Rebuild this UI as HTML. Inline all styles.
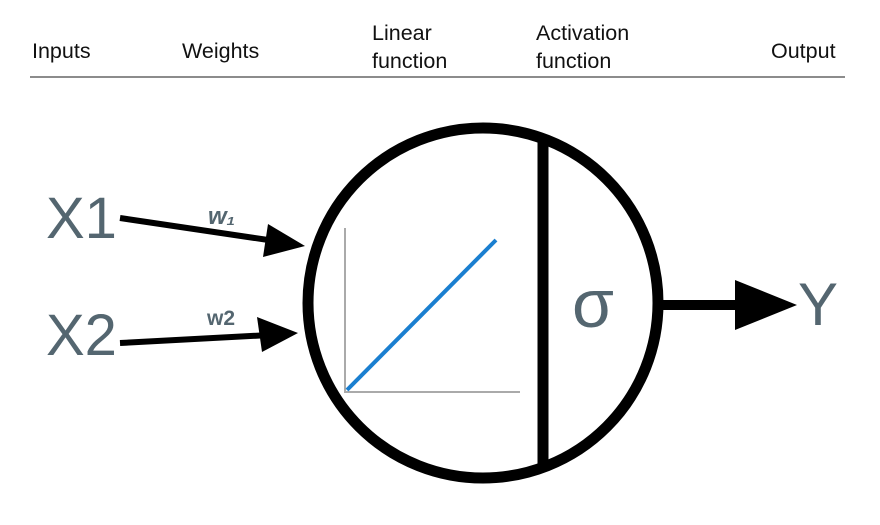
<!DOCTYPE html>
<html><head><style>body{margin:0;background:#fff}</style></head><body>
<svg width="880" height="520" xmlns="http://www.w3.org/2000/svg" font-family="Liberation Sans, sans-serif">
<g font-size="21.5" fill="#111">
<text x="32" y="58">Inputs</text>
<text x="182" y="58">Weights</text>
<text x="372" y="40">Linear</text>
<text x="372" y="68">function</text>
<text x="536" y="40">Activation</text>
<text x="536" y="68">function</text>
<text x="771" y="58">Output</text>
</g>
<line x1="30" y1="77" x2="845" y2="77" stroke="#666" stroke-width="1.5"/>
<circle cx="483" cy="303" r="175" fill="none" stroke="#000" stroke-width="11"/>
<line x1="543" y1="135" x2="543" y2="470" stroke="#000" stroke-width="11"/>
<line x1="345" y1="228" x2="345" y2="393" stroke="#aaa" stroke-width="2"/>
<line x1="344" y1="392" x2="520" y2="392" stroke="#aaa" stroke-width="2"/>
<line x1="347" y1="390" x2="496" y2="240" stroke="#1a7fd0" stroke-width="4"/>
<g fill="#546670">
<text x="46" y="238" font-size="58">X1</text>
<text x="46" y="355" font-size="58">X2</text>
<text x="208" y="224" font-size="24" font-style="italic" font-weight="bold">w₁</text>
<text x="207" y="325" font-size="21" font-weight="bold">w2</text>
<text x="572" y="327" font-size="68">σ</text>
<text x="798" y="325" font-size="60">Y</text>
</g>
<line x1="120" y1="218" x2="275" y2="241" stroke="#000" stroke-width="6"/>
<polygon points="305,246 268,224 263,257" fill="#000"/>
<line x1="120" y1="343" x2="270" y2="335" stroke="#000" stroke-width="6"/>
<polygon points="298,333 257,317 262,352" fill="#000"/>
<line x1="660" y1="305" x2="745" y2="305" stroke="#000" stroke-width="10"/>
<polygon points="797,305 735,280 735,330" fill="#000"/>
</svg>
</body></html>
